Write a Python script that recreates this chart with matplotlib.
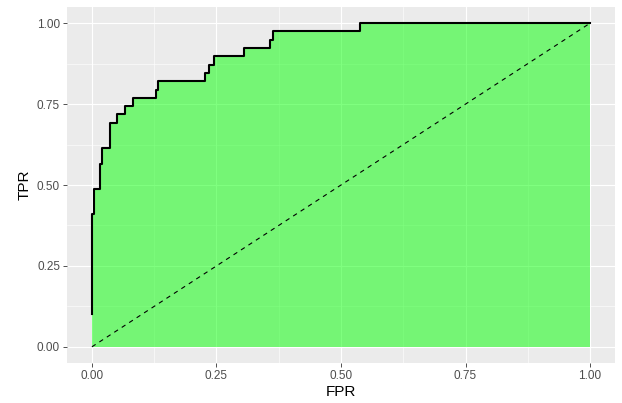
import matplotlib
matplotlib.use("Agg")
import matplotlib.pyplot as plt
import numpy as np

# ROC points: vertical jump at each fpr, then flat to the next
fpr = [0.0, 0.0, 0.005, 0.017, 0.021, 0.037, 0.051, 0.067, 0.083, 0.129,
       0.132, 0.228, 0.235, 0.245, 0.306, 0.357, 0.364, 0.538, 1.0]
tpr = [4/39, 16/39, 19/39, 22/39, 24/39, 27/39, 28/39, 29/39, 30/39, 31/39,
       32/39, 33/39, 34/39, 35/39, 36/39, 37/39, 38/39, 1.0, 1.0]

ticks = [0.0, 0.25, 0.5, 0.75, 1.0]
tick_labels = ["0.00", "0.25", "0.50", "0.75", "1.00"]
minor_ticks = [0.125, 0.375, 0.625, 0.875]

plt.rcParams['font.family'] = ['Liberation Sans', 'DejaVu Sans']

fig = plt.figure(figsize=(6.22, 4.03), dpi=100)
ax = fig.add_axes([67/622, 40/403, 548/622, 356/403])
ax.set_facecolor('#EBEBEB')

# grid lines like ggplot's theme_grey
for t in ticks:
    ax.axvline(t, color='white', lw=0.8, zorder=0)
    ax.axhline(t, color='white', lw=0.8, zorder=0)
for t in minor_ticks:
    ax.axvline(t, color='white', lw=0.4, zorder=0)
    ax.axhline(t, color='white', lw=0.4, zorder=0)

# area under the curve
ax.fill_between(fpr, 0, tpr, step='post', color='#00FF00', alpha=0.5, lw=0, zorder=1)
ax.plot(fpr, tpr, drawstyle='steps-post', color='black', lw=1.5, zorder=3)
ax.plot([0, 1], [0, 1], color='black', lw=0.8, linestyle=(0, (4, 4)), zorder=2)

ax.set_xlim(-0.05, 1.05)
ax.set_ylim(-0.05, 1.05)
ax.set_xticks(ticks)
ax.set_xticklabels(tick_labels)
ax.set_yticks(ticks)
ax.set_yticklabels(tick_labels)
ax.tick_params(length=3, width=0.6, color='#333333', labelcolor='#4D4D4D', labelsize=8.5, pad=2)
for s in ax.spines.values():
    s.set_visible(False)

ax.set_xlabel('FPR', fontsize=11, labelpad=2)
ax.set_ylabel('TPR', fontsize=11, labelpad=4)

fig.savefig('out.png', dpi=100)
